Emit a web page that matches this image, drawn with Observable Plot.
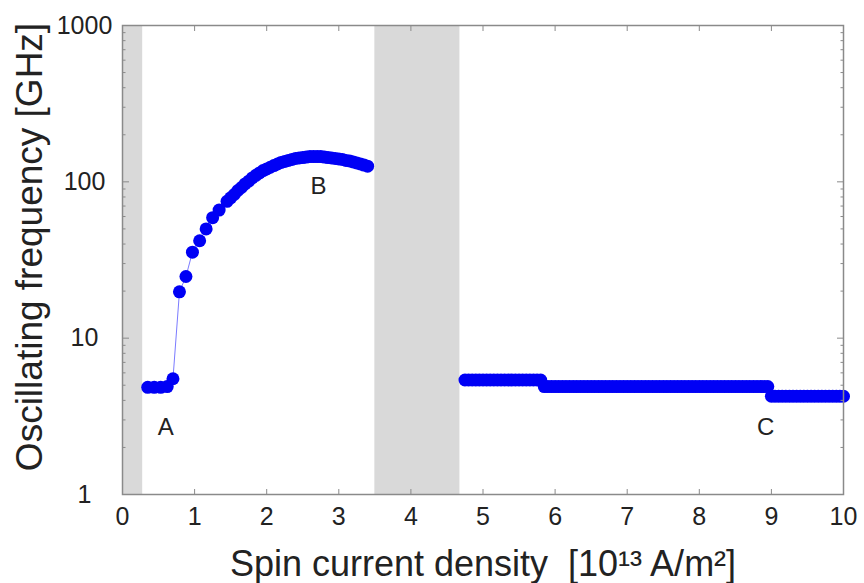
<!DOCTYPE html>
<html>
<head>
<meta charset="utf-8">
<script src="https://cdn.jsdelivr.net/npm/d3@7"></script>
<script src="https://cdn.jsdelivr.net/npm/@observablehq/plot@0.6"></script>
<style>
  html, body { margin: 0; padding: 0; background: #fff; }
  #chart { width: 864px; height: 583px; }
</style>
</head>
<body>
<div id="chart"></div>
<script>
// ---- data ----
const leftX = [0.35,0.44,0.53,0.62,0.70,0.79,0.88,0.97,1.07,1.16,1.25,1.34,
  1.45,1.50,1.55,1.60,1.65,1.70,1.75,1.80,1.85,1.90,1.95,2.00,2.05,2.10,2.15,2.20,2.25,2.30,2.35,2.40,
  2.45,2.50,2.55,2.60,2.65,2.70,2.75,2.80,2.85,2.90,2.95,3.00,3.05,3.10,3.15,3.20,3.25,3.30,3.35,3.40];
const leftY = [4.85,4.85,4.85,4.9,5.5,19.8,24.8,35.5,42,50,59,66,
  75,79,83,88,92,97,101,106,110,114,118,121,124,127,130,133,135,137,139,141,
  142,143,144,145,145,145,145,144,143,142,141,140,139,137,136,134,132,130,128,126];

const rightX = [4.75,4.80,4.85,4.90,4.95,5.00,5.05,5.10,5.15,5.20,5.25,5.30,5.35,5.40,5.45,5.50,5.55,5.60,5.65,5.70,5.75,5.80,
  5.85,5.90,5.95,6.00,6.05,6.10,6.15,6.20,6.25,6.30,6.35,6.40,6.45,6.50,6.55,6.60,6.65,6.70,6.75,6.80,6.85,6.90,6.95,7.00,
  7.05,7.10,7.15,7.20,7.25,7.30,7.35,7.40,7.45,7.50,7.55,7.60,7.65,7.70,7.75,7.80,7.85,7.90,7.95,8.00,8.05,8.10,8.15,8.20,
  8.25,8.30,8.35,8.40,8.45,8.50,8.55,8.60,8.65,8.70,8.75,8.80,8.85,8.90,8.95,
  9.00,9.05,9.10,9.15,9.20,9.25,9.30,9.35,9.40,9.45,9.50,9.55,9.60,9.65,9.70,9.75,9.80,9.85,9.90,9.95,10.00];
const rightY = [5.4,5.4,5.4,5.4,5.4,5.4,5.4,5.4,5.4,5.4,5.4,5.4,5.4,5.4,5.4,5.4,5.4,5.4,5.4,5.4,5.4,5.4,
  4.9,4.9,4.9,4.9,4.9,4.9,4.9,4.9,4.9,4.9,4.9,4.9,4.9,4.9,4.9,4.9,4.9,4.9,4.9,4.9,4.9,4.9,4.9,4.9,
  4.9,4.9,4.9,4.9,4.9,4.9,4.9,4.9,4.9,4.9,4.9,4.9,4.9,4.9,4.9,4.9,4.9,4.9,4.9,4.9,4.9,4.9,4.9,4.9,
  4.9,4.9,4.9,4.9,4.9,4.9,4.9,4.9,4.9,4.9,4.9,4.9,4.9,4.9,4.9,
  4.25,4.25,4.25,4.25,4.25,4.25,4.25,4.25,4.25,4.25,4.25,4.25,4.25,4.25,4.25,4.25,4.25,4.25,4.25,4.25,4.25];

const bandStart = [0, 3.5];
const bandEnd = [0.28, 4.68];

const letterText = ["A", "B", "C"];
const letterX = [0.6, 2.72, 8.92];
const letterY = [2.7, 93, 2.7];

const xTicks = [0,1,2,3,4,5,6,7,8,9,10];
const yTicks = [1,10,100,1000];
const yMinor = [2,3,4,5,6,7,8,9,20,30,40,50,60,70,80,90,200,300,400,500,600,700,800,900];

const xLabel = "Spin current density  [10\u00B9\u00B3 A/m\u00B2]";
const yLabel = "Oscillating frequency [GHz]";

// ---- build tables ----
const left = leftX.map((x, i) => ({x, y: leftY[i]}));
const right = rightX.map((x, i) => ({x, y: rightY[i]}));
const bands = bandStart.map((s, i) => ({x1: s, x2: bandEnd[i]}));
const letters = letterText.map((t, i) => ({t, x: letterX[i], y: letterY[i]}));

const gray = "#8a8a8a";
const font = "Liberation Sans, Arial, Helvetica, sans-serif";

const chart = Plot.plot({
  width: 864,
  height: 583,
  marginLeft: 122,
  marginRight: 21,
  marginTop: 25,
  marginBottom: 89,
  style: {fontFamily: font, background: "#fff", color: "#222"},
  x: {domain: [0, 10]},
  y: {type: "log", domain: [1, 1000]},
  marks: [
    Plot.rect(bands, {x1: "x1", x2: "x2", fill: "#d9d9d9"}),
    Plot.line(left, {x: "x", y: "y", stroke: "#7b7bff", strokeWidth: 1}),
    Plot.line(right, {x: "x", y: "y", stroke: "#7b7bff", strokeWidth: 1}),
    Plot.dot(left, {x: "x", y: "y", r: 6.5, fill: "#0000f5"}),
    Plot.dot(right, {x: "x", y: "y", r: 6.5, fill: "#0000f5"}),
    Plot.text(letters, {x: "x", y: "y", text: "t", fontSize: 24, fill: "#222"}),
    // x tick labels
    Plot.axisX({anchor: "bottom", ticks: xTicks, tickSize: 0, tickPadding: 13, fontSize: 25, label: null, tickFormat: d => String(d)}),
    // inward x ticks bottom / top
    Plot.axisX({anchor: "bottom", ticks: xTicks, tickSize: -5, stroke: gray, label: null, tickFormat: () => ""}),
    Plot.axisX({anchor: "top", ticks: xTicks, tickSize: -5, stroke: gray, label: null, tickFormat: () => ""}),
    // y tick labels
    Plot.axisY({anchor: "left", ticks: yTicks, tickSize: 0, tickPadding: 38, textAnchor: "middle", fontSize: 25, label: null, tickFormat: d => String(d)}),
    // inward y ticks, major and minor, both sides
    Plot.axisY({anchor: "left", ticks: yTicks, tickSize: -7, stroke: gray, label: null, tickFormat: () => ""}),
    Plot.axisY({anchor: "right", ticks: yTicks, tickSize: -7, stroke: gray, label: null, tickFormat: () => ""}),
    Plot.axisY({anchor: "left", ticks: yMinor, tickSize: -3.5, stroke: gray, label: null, tickFormat: () => ""}),
    Plot.axisY({anchor: "right", ticks: yMinor, tickSize: -3.5, stroke: gray, label: null, tickFormat: () => ""}),
    Plot.frame({stroke: gray, strokeWidth: 1.5}),
    // axis titles
    Plot.text([yLabel], {frameAnchor: "left", text: d => d, rotate: -90, textAnchor: "middle", lineAnchor: "middle", dx: -92, dy: -13, fontSize: 37, fill: "#222"}),
    Plot.text([xLabel], {frameAnchor: "bottom", text: d => d, textAnchor: "middle", lineAnchor: "middle", dy: 70, fontSize: 36, fill: "#222"})
  ]
});

document.getElementById("chart").appendChild(chart);
</script>
</body>
</html>
